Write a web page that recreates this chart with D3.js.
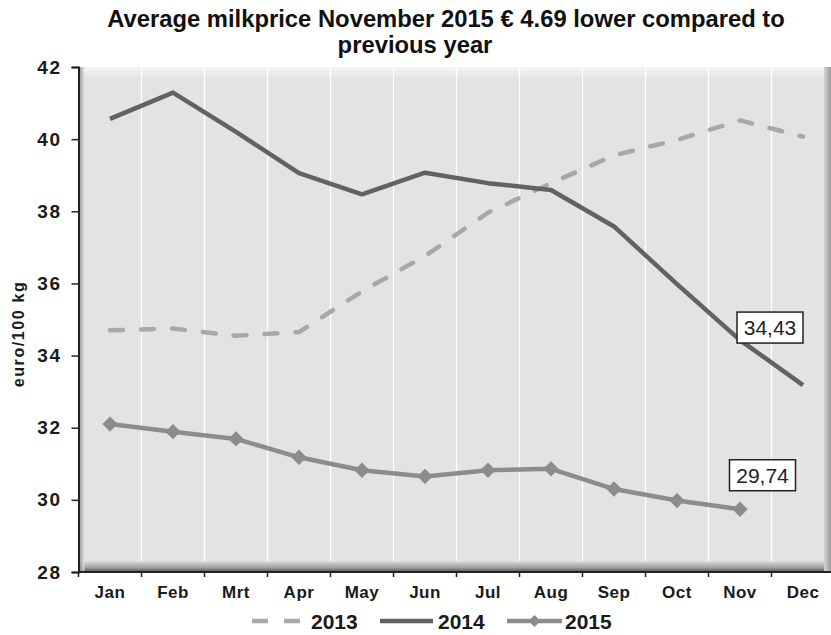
<!DOCTYPE html>
<html>
<head>
<meta charset="utf-8">
<script src="https://cdn.jsdelivr.net/npm/d3@7"></script>
<style>
  html, body { margin: 0; padding: 0; background: #fff; }
  svg { display: block; font-family: "Liberation Sans", Arial, sans-serif; }
</style>
</head>
<body>
<svg id="chart" width="831" height="635"></svg>
<script>
// Monthly average milk price, euro per 100 kg
const months = ["Jan", "Feb", "Mrt", "Apr", "May", "Jun", "Jul", "Aug", "Sep", "Oct", "Nov", "Dec"];
const price2013 = [34.70, 34.75, 34.55, 34.65, 35.78, 36.76, 37.96, 38.78, 39.55, 39.98, 40.52, 40.07];
const price2014 = [40.56, 41.29, 40.20, 39.06, 38.47, 39.07, 38.78, 38.59, 37.58, 35.98, 34.43, 33.18];
const price2015 = [32.10, 31.89, 31.69, 31.18, 30.82, 30.65, 30.82, 30.86, 30.30, 29.98, 29.74];
const yTicks = [28, 30, 32, 34, 36, 38, 40, 42];
const seriesNames = ["2013", "2014", "2015"];
const titleLines = ["Average milkprice November 2015 € 4.69 lower compared to", "previous year"];
const yLabel = "euro/100 kg";

const svg = d3.select("#chart");
const plotLeft = 78.5, plotTop = 67, plotBottom = 572, bandW = 63, plotRight = 831;

const x = d3.scaleBand().domain(months).range([plotLeft, plotLeft + bandW * months.length]).padding(0);
const y = d3.scaleLinear().domain([28, 42]).range([plotBottom, plotTop]);
const xc = m => x(m) + x.bandwidth() / 2;

const defs = svg.append("defs");
function grad(id, vertical, stops) {
  const g = defs.append("linearGradient").attr("id", id)
    .attr("x1", 0).attr("y1", 0).attr("x2", vertical ? 0 : 1).attr("y2", vertical ? 1 : 0);
  stops.forEach(([o, c]) => g.append("stop").attr("offset", o).attr("stop-color", c));
}
grad("floor", true, [["0%", "#dcdcdc"], ["60%", "#a0a0a0"], ["100%", "#505050"]]);
grad("topband", true, [["0%", "#f4f4f4"], ["100%", "#e6e6e6"]]);
grad("wall", false, [["0%", "#7a7a7a"], ["100%", "#e3e3e3"]]);
grad("rightwall", false, [["0%", "#d6d6d6"], ["100%", "#9a9a9a"]]);

// back wall
svg.append("rect").attr("x", plotLeft).attr("y", plotTop).attr("width", plotRight - plotLeft).attr("height", plotBottom - plotTop).attr("fill", "#e3e3e3");
// top band of the wall
svg.append("rect").attr("x", plotLeft).attr("y", plotTop).attr("width", plotRight - plotLeft).attr("height", 11).attr("fill", "url(#topband)");
// vertical gridlines at the month boundaries
svg.append("g").selectAll("line").data(months.slice(1)).join("line")
  .attr("x1", d => x(d)).attr("x2", d => x(d))
  .attr("y1", plotTop + 1).attr("y2", plotBottom - 10)
  .attr("stroke", "#ffffff").attr("stroke-width", 1.3);
// floor
svg.append("rect").attr("x", plotLeft).attr("y", plotBottom - 11).attr("width", plotRight - plotLeft).attr("height", 11).attr("fill", "url(#floor)");
// left wall shading and right edge
svg.append("rect").attr("x", plotLeft).attr("y", plotTop).attr("width", 6).attr("height", plotBottom - plotTop).attr("fill", "url(#wall)").attr("opacity", 0.8);
svg.append("rect").attr("x", 824).attr("y", plotTop).attr("width", 7).attr("height", plotBottom - plotTop).attr("fill", "url(#rightwall)");

// y axis
const yAxis = d3.axisLeft(y).tickValues(yTicks).tickSize(7).tickPadding(10).tickFormat(d3.format("d"));
const gy = svg.append("g").attr("transform", `translate(${plotLeft},0)`).call(yAxis);
gy.select(".domain").attr("stroke", "#222").attr("stroke-width", 2);
gy.selectAll(".tick line").attr("stroke", "#222").attr("stroke-width", 1.5);
gy.selectAll(".tick text").attr("font-size", 19).attr("font-weight", "bold").attr("fill", "#1a1a1a")
  .attr("letter-spacing", 1.5).attr("font-family", "Liberation Sans, Arial, sans-serif");

// x axis with ticks on the month boundaries
const gx = svg.append("g").attr("transform", `translate(0,${plotBottom})`);
gx.append("line").attr("x1", plotLeft).attr("x2", plotRight).attr("y1", 0).attr("y2", 0).attr("stroke", "#222").attr("stroke-width", 2);
gx.selectAll("line.tk").data(d3.range(months.length + 1)).join("line").attr("class", "tk")
  .attr("x1", i => plotLeft + i * x.bandwidth()).attr("x2", i => plotLeft + i * x.bandwidth())
  .attr("y1", 0).attr("y2", 5).attr("stroke", "#222").attr("stroke-width", 1.5);
gx.selectAll("text").data(months).join("text")
  .attr("x", d => xc(d)).attr("y", 26).attr("text-anchor", "middle")
  .attr("font-size", 17).attr("font-weight", "bold").attr("fill", "#1a1a1a").attr("letter-spacing", 0.5)
  .text(d => d);

// series lines
const line = d3.line().x((d, i) => xc(months[i])).y(d => y(d));
svg.append("path").datum(price2013).attr("d", line).attr("fill", "none")
  .attr("stroke", "#a8a8a8").attr("stroke-width", 4.5).attr("stroke-dasharray", "13,18").attr("stroke-linecap", "round");
svg.append("path").datum(price2014).attr("d", line).attr("fill", "none")
  .attr("stroke", "#626262").attr("stroke-width", 4.5).attr("stroke-linejoin", "round");
svg.append("path").datum(price2015).attr("d", line).attr("fill", "none")
  .attr("stroke", "#8c8c8c").attr("stroke-width", 4.5).attr("stroke-linejoin", "round");
const diamond = d3.symbol().type(d3.symbolDiamond2).size(150);
svg.append("g").selectAll("path").data(price2015).join("path")
  .attr("d", diamond)
  .attr("transform", (d, i) => `translate(${xc(months[i])},${y(d)})`)
  .attr("fill", "#8c8c8c");

// value labels for November
const fmtComma = v => v.toFixed(2).replace(".", ",");
function valueLabel(val, dx, dy) {
  const cx = xc("Nov") + dx, cy = y(val) + dy;
  const g = svg.append("g");
  g.append("rect").attr("x", cx - 33).attr("y", cy - 15.5).attr("width", 66).attr("height", 31)
    .attr("fill", "#fff").attr("stroke", "#222").attr("stroke-width", 1.5);
  g.append("text").attr("x", cx).attr("y", cy + 7.5).attr("text-anchor", "middle")
    .attr("font-size", 21).attr("fill", "#222").text(fmtComma(val));
}
valueLabel(price2014[10], 30, -12.5);
valueLabel(price2015[10], 22.5, -34);

// title
svg.append("text").attr("x", 446).attr("y", 27).attr("text-anchor", "middle")
  .attr("font-size", 23.8).attr("font-weight", "bold").attr("fill", "#111").text(titleLines[0]);
svg.append("text").attr("x", 415).attr("y", 53).attr("text-anchor", "middle")
  .attr("font-size", 23.8).attr("font-weight", "bold").attr("fill", "#111").text(titleLines[1]);

// y axis title
svg.append("text").attr("transform", "translate(24,334) rotate(-90)").attr("text-anchor", "middle")
  .attr("font-size", 16).attr("font-weight", "bold").attr("fill", "#1a1a1a").attr("letter-spacing", 1.6).text(yLabel);

// legend
const lg = svg.append("g").attr("transform", "translate(252,621)");
const items = [
  { name: seriesNames[0], x0: 0, x1: 48, tx: 59, stroke: "#a8a8a8", dash: "16,16", marker: false },
  { name: seriesNames[1], x0: 128, x1: 181, tx: 186, stroke: "#626262", dash: null, marker: false },
  { name: seriesNames[2], x0: 255, x1: 310, tx: 313, stroke: "#8c8c8c", dash: null, marker: true }
];
items.forEach(it => {
  const l = lg.append("line").attr("x1", it.x0).attr("x2", it.x1).attr("y1", 0).attr("y2", 0)
    .attr("stroke", it.stroke).attr("stroke-width", 4.5);
  if (it.dash) l.attr("stroke-dasharray", it.dash);
  if (it.marker) lg.append("path").attr("d", d3.symbol().type(d3.symbolDiamond2).size(90))
    .attr("transform", `translate(${(it.x0 + it.x1) / 2},0)`).attr("fill", it.stroke);
  lg.append("text").attr("x", it.tx).attr("y", 8).attr("font-size", 21).attr("font-weight", "bold")
    .attr("fill", "#1a1a1a").text(it.name);
});
</script>
</body>
</html>
